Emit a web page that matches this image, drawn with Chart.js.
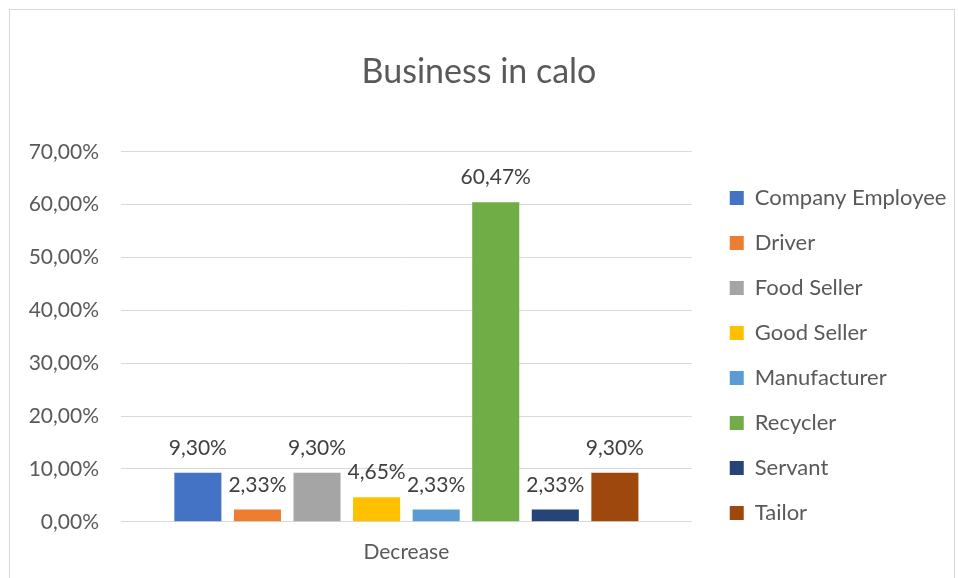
<!DOCTYPE html>
<html>
<head>
<meta charset="utf-8">
<script src="https://cdn.jsdelivr.net/npm/chart.js@4/dist/chart.umd.min.js"></script>
<style>
    body { margin: 0; background: #fff; }
    #wrap { position: relative; width: 958px; height: 578px; }
    #frame { position: absolute; left: 9px; top: 9px; width: 946px; height: 580px; border: 1px solid #d9d9d9; box-sizing: border-box; }
    canvas { position: absolute; left: 0; top: 0; }
</style>
</head>
<body>
<div id="wrap">
    <div id="frame"></div>
    <canvas id="businessChart" width="958" height="578"></canvas>
</div>
<script>
const categories = ['Decrease'];
const seriesNames = ['Company Employee', 'Driver', 'Food Seller', 'Good Seller', 'Manufacturer', 'Recycler', 'Servant', 'Tailor'];
const seriesValues = [9.30, 2.33, 9.30, 4.65, 2.33, 60.47, 2.33, 9.30];
const seriesColors = ['#4472c4', '#ed7d31', '#a5a5a5', '#ffc000', '#5b9bd5', '#70ad47', '#264478', '#9e480e'];
const yTicks = [0, 10, 20, 30, 40, 50, 60, 70];

const fontFamily = 'Lato, "Open Sans", sans-serif';
const textColor = '#595959';

function pct(v) {
    return v.toFixed(2).replace('.', ',') + '%';
}

// value labels on top of each bar
const barLabels = {
    id: 'barLabels',
    afterDatasetsDraw(chart) {
        const ctx = chart.ctx;
        ctx.save();
        ctx.font = '21px ' + fontFamily;
        ctx.fillStyle = '#404040';
        ctx.textAlign = 'center';
        ctx.textBaseline = 'bottom';
        chart.data.datasets.forEach((ds, i) => {
            const bar = chart.getDatasetMeta(i).data[0];
            ctx.fillText(pct(ds.data[0]), bar.x, bar.y - 14);
        });
        ctx.restore();
    }
};

// nudge legend away from the plot, center the title on the whole canvas
const layoutShift = {
    id: 'layoutShift',
    afterLayout(chart) {
        const lg = chart.legend;
        lg.left += 15;
        lg.right = chart.width;
        lg.top += 42; lg.bottom += 42;
        const tb = chart.titleBlock;
        tb.left = 0;
        tb.right = chart.width;
    }
};

const datasets = seriesNames.map((name, i) => ({
    label: name,
    data: [seriesValues[i]],
    backgroundColor: seriesColors[i],
    barPercentage: 0.79,
    categoryPercentage: 0.835
}));

new Chart(document.getElementById('businessChart'), {
    type: 'bar',
    data: { labels: categories, datasets: datasets },
    plugins: [barLabels, layoutShift],
    options: {
        responsive: false,
        animation: false,
        layout: { padding: { left: 10, right: 39, top: 52, bottom: 3 } },
        plugins: {
            title: {
                display: true,
                text: 'Business in calo',
                color: textColor,
                font: { family: fontFamily, size: 34, weight: 'normal' },
                padding: { top: 0, bottom: 59 }
            },
            legend: {
                position: 'right',
                align: 'center',
                labels: {
                    color: textColor,
                    font: { family: fontFamily, size: 22 },
                    boxWidth: 14,
                    boxHeight: 14,
                    padding: 23
                }
            },
            tooltip: { enabled: false }
        },
        scales: {
            y: {
                min: 0,
                max: 70,
                afterBuildTicks: (axis) => { axis.ticks = yTicks.map(v => ({ value: v })); },
                afterFit: (axis) => { axis.width = 111; },
                grid: { color: '#d9d9d9', lineWidth: 1, drawTicks: false },
                border: { display: false },
                ticks: {
                    padding: 22,
                    color: textColor,
                    font: { family: fontFamily, size: 21 },
                    callback: (value) => pct(value)
                }
            },
            x: {
                grid: { display: false },
                border: { color: '#d9d9d9' },
                ticks: {
                    padding: 10,
                    color: textColor,
                    font: { family: fontFamily, size: 21 }
                }
            }
        }
    }
});
</script>
</body>
</html>
